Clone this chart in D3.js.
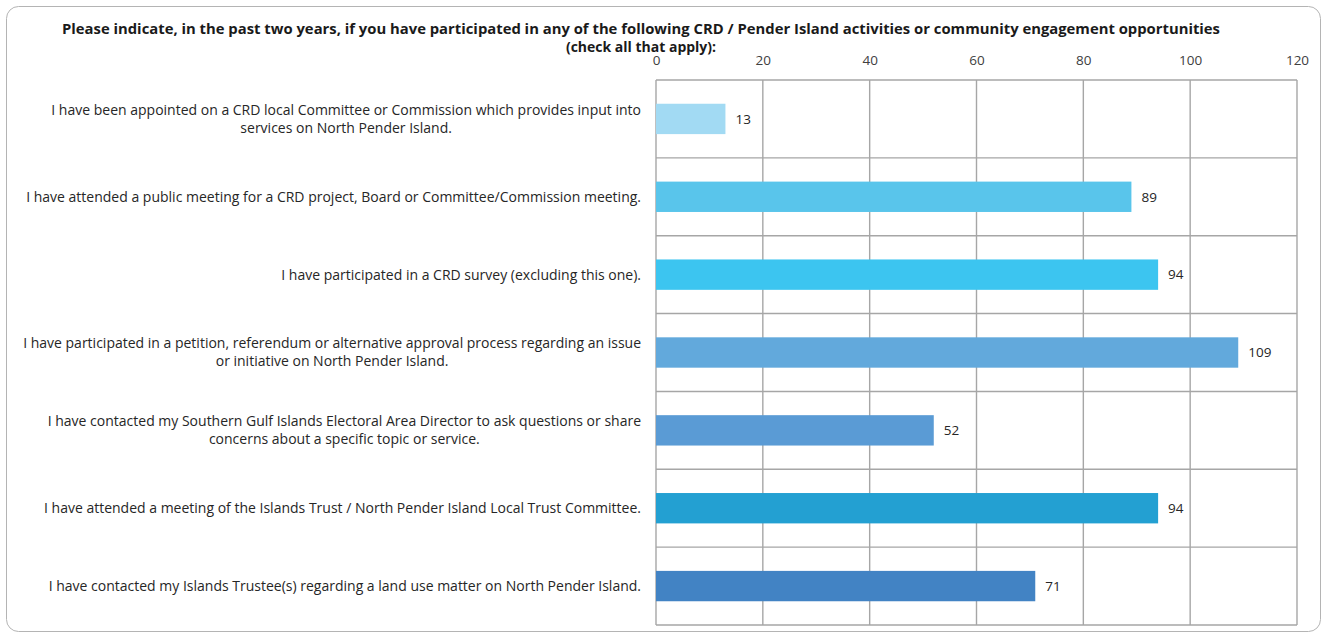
<!DOCTYPE html>
<html>
<head>
<meta charset="utf-8">
<script src="https://cdn.jsdelivr.net/npm/d3@7"></script>
<style>
  html, body { margin: 0; padding: 0; background: #fff; }
  svg { display: block; }
  text { font-family: "Open Sans", Lato, sans-serif; }
</style>
</head>
<body>
<svg id="chart" width="1328" height="638"></svg>
<script>
const titleLines = [
  "Please indicate, in the past two years, if you have participated in any of the following CRD / Pender Island activities or community engagement opportunities",
  "(check all that apply):"
];
const categories = [
  "I have been appointed on a CRD local Committee or Commission which provides input into\nservices on North Pender Island.",
  "I have attended a public meeting for a CRD project, Board or Committee/Commission meeting.",
  "I have participated in a CRD survey (excluding this one).",
  "I have participated in a petition, referendum or alternative approval process regarding an issue\nor initiative on North Pender Island.",
  "I have contacted my Southern Gulf Islands Electoral Area Director to ask questions or share\nconcerns about a specific topic or service.",
  "I have attended a meeting of the Islands Trust / North Pender Island Local Trust Committee.",
  "I have contacted my Islands Trustee(s) regarding a land use matter on North Pender Island."
];
const values = [13, 89, 94, 109, 52, 94, 71];
const barColors = ["#a2daf3", "#59c5eb", "#3cc5f0", "#62a9dc", "#5a9bd5", "#23a0d2", "#4283c4"];
const tickValues = [0, 20, 40, 60, 80, 100, 120];

const svg = d3.select("#chart");
const plot = { left: 656, right: 1297, top: 80, bottom: 625 };

// outer frame
svg.append("rect")
  .attr("x", 6.5).attr("y", 6.5).attr("width", 1314).attr("height", 625)
  .attr("rx", 12).attr("ry", 12)
  .attr("fill", "#fff").attr("stroke", "#b4b4b4").attr("stroke-width", 1);

const x = d3.scaleLinear().domain([0, 120]).range([plot.left, plot.right]);
const y = d3.scaleBand().domain(categories).range([plot.top, plot.bottom]).padding(0);
const barH = y.bandwidth() * 0.39;

// title (fit to the reference's measured line widths)
const titleWidths = [1158, 152];
svg.append("g").selectAll("text").data(titleLines).join("text")
  .attr("x", 641).attr("y", (d, i) => 34 + i * 18)
  .attr("text-anchor", "middle")
  .attr("font-size", 14).attr("font-weight", "bold").attr("fill", "#1a1a1a")
  .text(d => d)
  .each(function (d, i) {
    const w = this.getComputedTextLength();
    if (Math.abs(w - titleWidths[i]) > 4) {
      d3.select(this).attr("textLength", titleWidths[i]).attr("lengthAdjust", "spacingAndGlyphs");
    }
  });

// grid
const grid = svg.append("g");
grid.selectAll("line.v").data(tickValues).join("line")
  .attr("class", "v")
  .attr("x1", d => x(d)).attr("x2", d => x(d))
  .attr("y1", plot.top).attr("y2", plot.bottom)
  .attr("stroke", "#a6a6a6").attr("stroke-width", 1.4);
const hLines = categories.map(c => y(c)).concat([plot.bottom]);
grid.selectAll("line.h").data(hLines).join("line")
  .attr("class", "h")
  .attr("x1", plot.left).attr("x2", plot.right)
  .attr("y1", d => d).attr("y2", d => d)
  .attr("stroke", "#a6a6a6").attr("stroke-width", 1.4);

// axis on top
const axis = svg.append("g")
  .attr("transform", `translate(0, ${plot.top - 12})`)
  .call(d3.axisTop(x).tickValues(tickValues).tickSize(0).tickPadding(3));
axis.select(".domain").remove();
axis.selectAll("text")
  .attr("font-size", 13.5).attr("fill", "#404040")
  .style("font-family", "'Open Sans', Lato, sans-serif");

// bars
svg.append("g").selectAll("rect").data(values).join("rect")
  .attr("x", x(0))
  .attr("y", (d, i) => y(categories[i]) + (y.bandwidth() - barH) / 2)
  .attr("width", d => x(d) - x(0))
  .attr("height", barH)
  .attr("fill", (d, i) => barColors[i]);

// value labels
svg.append("g").selectAll("text").data(values).join("text")
  .attr("x", d => x(d) + 10)
  .attr("y", (d, i) => y(categories[i]) + y.bandwidth() / 2)
  .attr("dy", "0.35em")
  .attr("font-size", 13.5).attr("fill", "#262626")
  .text(d => d);

// category labels (block right-aligned, lines centered)
const labelRight = 641;
const labels = svg.append("g");
categories.forEach((c, i) => {
  const lines = c.split("\n");
  const cy = y(c) + y.bandwidth() / 2;
  const g = labels.append("g");
  const t = g.selectAll("text").data(lines).join("text")
    .attr("y", (d, j) => cy + (j - (lines.length - 1) / 2) * 18)
    .attr("dy", "0.35em")
    .attr("font-size", 14).attr("fill", "#262626")
    .attr("text-anchor", "middle")
    .text(d => d);
  let maxW = 0;
  t.each(function () { maxW = Math.max(maxW, this.getComputedTextLength()); });
  t.attr("x", labelRight - maxW / 2);
});
</script>
</body>
</html>
